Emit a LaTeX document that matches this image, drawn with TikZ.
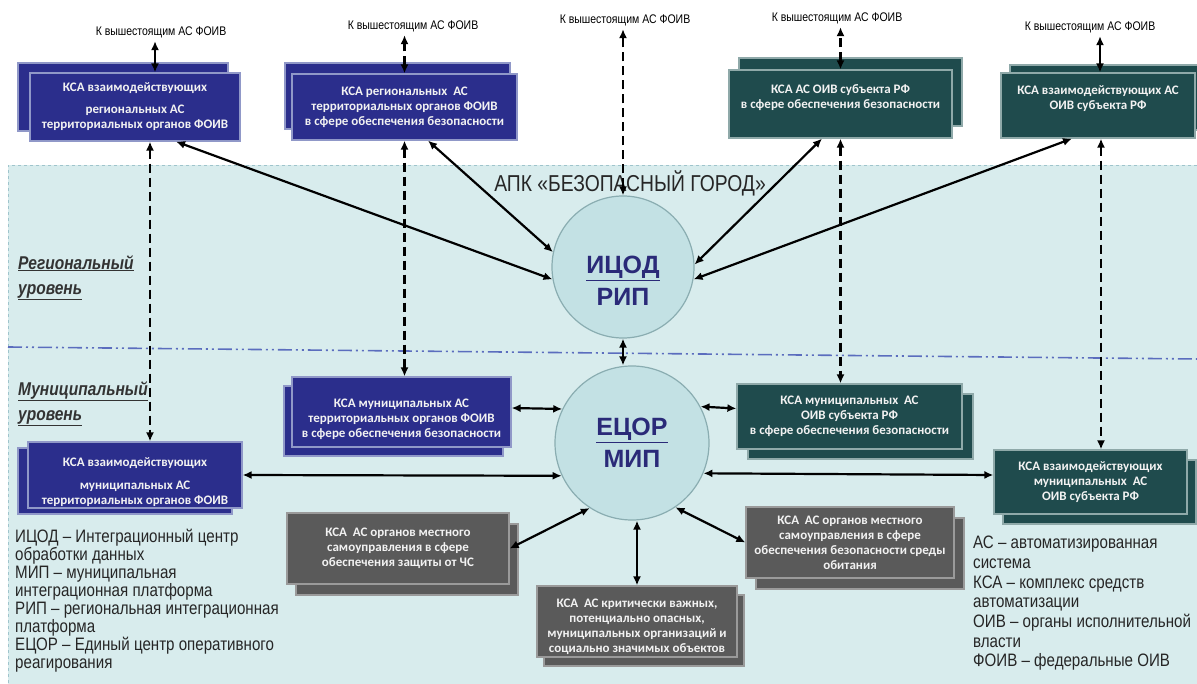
\documentclass[tikz,border=0pt]{standalone}
\usepackage{fontspec}
\setmainfont{Liberation Sans}
\newfontfamily\narrowfont[FakeStretch=0.84]{Liberation Sans}
\newfontfamily\boxfont{Carlito}
\usetikzlibrary{arrows.meta}

\definecolor{navyfill}{HTML}{2B2E8C}
\definecolor{navyedge}{HTML}{9098C8}
\definecolor{tealfill}{HTML}{1F4B4D}
\definecolor{tealedge}{HTML}{8FA9A9}
\definecolor{grayfill}{HTML}{5A5A5A}
\definecolor{grayedge}{HTML}{9A9A9A}
\definecolor{hubfill}{HTML}{C3E1E4}
\definecolor{hubedge}{HTML}{8AADB1}
\definecolor{hubink}{HTML}{2A2A78}
\definecolor{zonefill}{HTML}{D8ECED}
\definecolor{zoneedge}{HTML}{9FC4CC}
\definecolor{levelline}{HTML}{5B6DBE}
\definecolor{boxink}{HTML}{F2F2F2}

\tikzset{
  ksa/.style={line width=1.2pt, text=boxink, align=center, inner sep=0pt,
    font=\boxfont\bfseries\fontsize{13}{15}\selectfont},
  navybox/.style={ksa, draw=navyedge, fill=navyfill},
  tealbox/.style={ksa, draw=tealedge, fill=tealfill},
  graybox/.style={ksa, draw=grayedge, fill=grayfill},
  hub/.style={circle, draw=hubedge, fill=hubfill, line width=1.2pt, inner sep=0pt},
  hubtext/.style={text=hubink, align=center, font=\bfseries\fontsize{25}{32}\selectfont},
  uplabel/.style={font=\narrowfont\fontsize{12.5}{14}\selectfont},
  legend/.style={align=left, anchor=north west, inner sep=0pt, text=black!85,
    font=\narrowfont\fontsize{18}{18}\selectfont},
  level/.style={align=left, anchor=north west, inner sep=0pt, text=black!80,
    font=\narrowfont\bfseries\itshape\fontsize{18.5}{25}\selectfont},
  link/.style={{Latex[length=9pt,width=8pt]}-{Latex[length=9pt,width=8pt]}, line width=2.2pt},
  dlink/.style={link, line width=2.5pt, dash pattern=on 9pt off 5pt}
}

% box with a shadow copy: name, style, x, y, width, height, dx, dy, text
\newcommand\ksabox[9]{%
  \node[#2, minimum width=#5pt, minimum height=#6pt] (#1back) at ({#3+#7},{#4+#8}) {};
  \node[#2, minimum width=#5pt, minimum height=#6pt] (#1) at (#3,#4) {#9};}

\begin{document}
\begin{tikzpicture}[x=1pt,y=-1pt]
\useasboundingbox (0,0) rectangle (1197,684);
\fill[white] (0,0) rectangle (1197,684);

% zone of the complex
\fill[zonefill] (8,165) rectangle (1197,684);
\draw[zoneedge, dashed, line width=0.6pt] (1197,165) -- (8,165) -- (8,684);
\coordinate (lvl-l) at (8,347);
\coordinate (lvl-r) at (1197,359);
\draw[levelline, line width=1.6pt, dash pattern=on 14pt off 4pt on 2pt off 4pt on 2pt off 4pt] (lvl-l) -- (lvl-r);

\node[font=\narrowfont\fontsize{23}{26}\selectfont, text=black!85] (apk) at (630,183) {АПК «БЕЗОПАСНЫЙ ГОРОД»};
\node[level] (reg) at (18,255) {\underline{Региональный}\\\underline{уровень}};
\node[level] (mun) at (18,381) {\underline{Муниципальный}\\\underline{уровень}};

% regional level
\ksabox{box1}{navybox}{135}{107}{210}{68}{-12}{-10}{КСА взаимодействующих\\[7pt]региональных АС\\территориальных органов ФОИВ}
\ksabox{box2}{navybox}{404.5}{107}{225}{66}{-7}{-11}{КСА региональных~ АС\\территориальных органов ФОИВ\\в сфере обеспечения безопасности}
\ksabox{box3}{tealbox}{840.5}{104}{223}{68}{10}{-12}{КСА АС ОИВ субъекта РФ\\в сфере обеспечения безопасности\\\mbox{}}
\ksabox{box4}{tealbox}{1098}{105.5}{194}{65}{9}{-8}{КСА взаимодействующих АС\\ОИВ субъекта РФ\\\mbox{}}

\node[uplabel] (up1) at (161,32) {К вышестоящим АС ФОИВ};
\node[uplabel] (up2) at (413,26) {К вышестоящим АС ФОИВ};
\node[uplabel] (up3) at (625,20) {К вышестоящим АС ФОИВ};
\node[uplabel] (up4) at (837,18) {К вышестоящим АС ФОИВ};
\node[uplabel] (up5) at (1090,27) {К вышестоящим АС ФОИВ};

% municipal level
\ksabox{munA}{navybox}{401.5}{412}{219}{70}{-8}{9}{\mbox{}\\[8pt]КСА муниципальных АС\\территориальных органов ФОИВ\\в сфере обеспечения безопасности}
\ksabox{munB}{tealbox}{849.5}{416.5}{225}{65}{11}{10}{КСА муниципальных~ АС\\ОИВ субъекта РФ\\в сфере обеспечения безопасности}
\ksabox{lowL}{navybox}{135}{475}{214}{66}{-10}{6}{\mbox{}\\[8pt]КСА взаимодействующих\\[8pt]муниципальных АС\\территориальных органов ФОИВ}
\ksabox{lowR}{tealbox}{1090.5}{482}{193}{64}{9}{10}{КСА взаимодействующих\\муниципальных~ АС\\ОИВ субъекта РФ}
\ksabox{grayL}{graybox}{398}{548.5}{222}{71}{9}{11}{КСА~ АС органов местного\\самоуправления в сфере\\обеспечения защиты от ЧС}
\ksabox{grayC}{graybox}{637}{621.5}{200}{71}{7}{9}{\mbox{}\\[4pt]КСА~ АС критически важных,\\потенциально опасных,\\муниципальных организаций и\\социально значимых объектов}
\ksabox{grayR}{graybox}{850}{542.5}{208}{71}{10}{11}{КСА~ АС органов местного\\самоуправления в сфере\\обеспечения безопасности среды\\обитания}

% platforms
\node[hub, minimum size=142pt] (icod) at (623,267) {};
\node[hubtext] (icodtxt) at (623,281) {\underline{ИЦОД}\\РИП};
\node[hub, minimum size=154pt] (ecor) at (632,443) {};
\node[hubtext] (ecortxt) at (632,443) {\underline{ЕЦОР}\\МИП};

% links upward
\draw[link] ([xshift=20pt]box1.north) -- ([xshift=20pt]box1.north |- up1.south);
\draw[dlink] (box2.north) -- (box2.north |- up2.south);
\draw[dlink] (icod.north) -- (icod.north |- up3.south);
\draw[dlink] (box3.north) -- (box3.north |- up4.south);
\draw[link] ([xshift=2pt]box4.north) -- ([xshift=2pt]box4.north |- up5.south);

% links between levels
\draw[dlink] ([xshift=15pt]box1.south) -- ([xshift=15pt]lowL.north);
\draw[dlink] (box2.south) -- (box2.south |- munA.north);
\draw[dlink] (box3.south) -- (box3.south |- munB.north);
\draw[dlink] ([xshift=3pt]box4.south) -- ([xshift=3pt]box4.south |- lowR.north);

% links to ИЦОД
\draw[link] ([xshift=41pt]box1.south) -- (icod.190);
\draw[link] ([xshift=23.5pt]box2.south) -- (icod.168);
\draw[link] ([xshift=-18.5pt]box3.south) -- (icod.2);
\draw[link] ([xshift=-26pt]box4.south) -- (icod.350);
\draw[link] (icod.south) -- (icod.south |- ecor.north);

% links to ЕЦОР
\draw[link] ([yshift=4pt]munA.east) -- (ecor.154);
\draw[link] ([yshift=8pt]munB.west) -- (ecor.28);
\draw[link] (lowL.east) -- (ecor.205);
\draw[link] ([yshift=7pt]lowR.west) -- (ecor.337);
\draw[link] (grayL.east) -- (ecor.237);
\draw[link] (grayC.north) -- (grayC.north |- ecor.south);
\draw[link] (grayR.west) -- (ecor.304);

% legends
\node[legend] (legL) at (15,529) {ИЦОД – Интеграционный центр\\обработки данных\\МИП – муниципальная\\интеграционная платформа\\РИП – региональная интеграционная\\платформа\\ЕЦОР – Единый центр оперативного\\реагирования};
\node[legend, font=\narrowfont\fontsize{18}{19.7}\selectfont] (legR) at (973,536) {АС – автоматизированная\\система\\КСА – комплекс средств\\автоматизации\\ОИВ – органы исполнительной\\власти\\ФОИВ – федеральные ОИВ};
\end{tikzpicture}
\end{document}
